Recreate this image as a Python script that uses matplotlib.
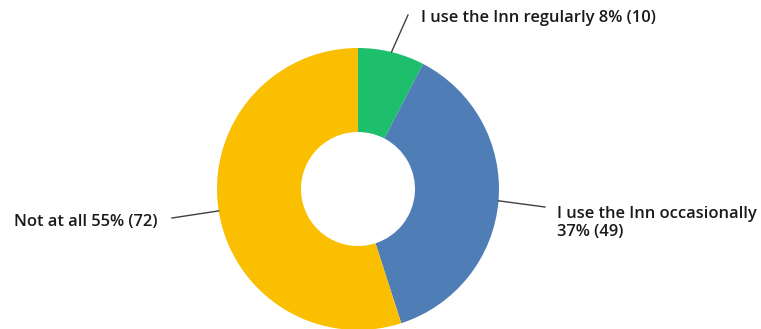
import numpy as np
import matplotlib.pyplot as plt

# survey answers, clockwise from 12 o'clock
labels = ["I use the Inn regularly", "I use the Inn occasionally", "Not at all"]
counts = [10, 49, 72]
percents = [8, 37, 55]
colors = ["#1dbf6d", "#4f7db6", "#f9bf00"]

W, H = 761, 329
fig = plt.figure(figsize=(W / 100, H / 100), dpi=100)
ax = fig.add_axes([0, 0, 1, 1])

cx, cy = 358, H - 189
r_out, r_in = 141, 57

wedges, _ = ax.pie(
    counts,
    colors=colors,
    startangle=90,
    counterclock=False,
    center=(cx, cy),
    radius=r_out,
    wedgeprops=dict(width=r_out - r_in, linewidth=0),
)

# label text anchors (pixels from top-left) and leader line ends
text_pos = [(421, 18, "left"), (557, 223, "left"), (158, 222, "right")]
leader_end = [(408, 15), (545, 207), (172, 218)]
texts = [
    f"{labels[0]} {percents[0]}% ({counts[0]})",
    f"{labels[1]}\n{percents[1]}% ({counts[1]})",
    f"{labels[2]} {percents[2]}% ({counts[2]})",
]

for w, (tx, ty, ha), (lx, ly), s in zip(wedges, text_pos, leader_end, texts):
    mid = np.deg2rad((w.theta1 + w.theta2) / 2)
    px = cx + r_out * np.cos(mid)
    py = cy + r_out * np.sin(mid)
    ax.plot([px, lx], [py, H - ly], color="#404040", lw=1)
    ax.text(tx, H - ty, s, ha=ha, va="center", fontsize=11.9,
            family="Open Sans", weight="semibold", color="#1a1a1a",
            linespacing=1.2)

ax.set_xlim(0, W)
ax.set_ylim(0, H)
ax.set_aspect("equal")
ax.axis("off")

fig.savefig("out.png", dpi=100)
